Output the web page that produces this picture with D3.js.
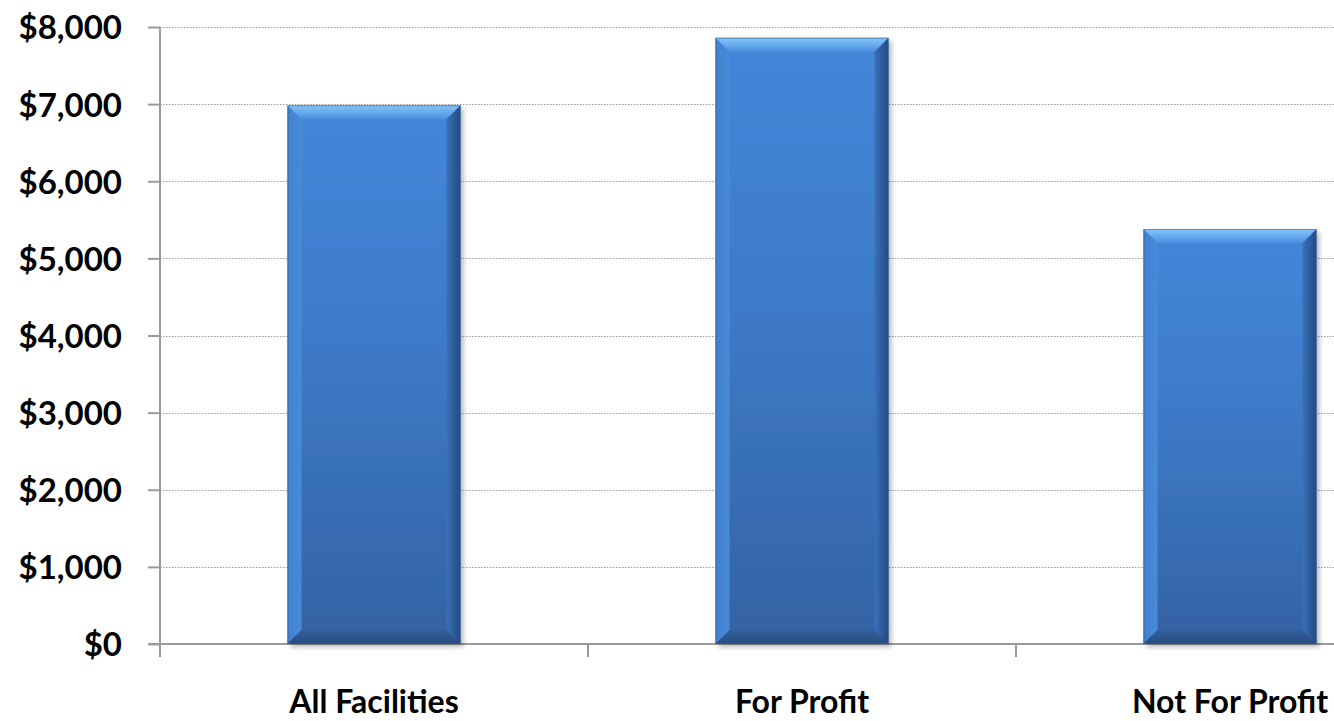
<!DOCTYPE html>
<html>
<head>
<meta charset="utf-8">
<script src="https://cdn.jsdelivr.net/npm/d3@7/dist/d3.min.js"></script>
<style>
  html, body { margin: 0; padding: 0; background: #fff; overflow: hidden; }
  svg { display: block; }
  text { font-family: Lato, "Open Sans", sans-serif; font-weight: 700; fill: #000; }
</style>
</head>
<body>
<svg id="chart" width="1334" height="721"></svg>
<script>
const categories = ["All Facilities", "For Profit", "Not For Profit"];
const values = [6985, 7860, 5380];
const yTicks = [0, 1000, 2000, 3000, 4000, 5000, 6000, 7000, 8000];

const W = 1334, H = 721;
const svg = d3.select("#chart");

const x = d3.scaleBand().domain(categories).range([160, 1444]).paddingInner(0.596).paddingOuter(0.298);
const y = d3.scaleLinear().domain([0, 8000]).range([644, 27]);

const defs = svg.append("defs");
function lg(id, stops, x1, y1, x2, y2) {
  const g = defs.append("linearGradient").attr("id", id)
    .attr("x1", x1).attr("y1", y1).attr("x2", x2).attr("y2", y2);
  stops.forEach(s => g.append("stop").attr("offset", s[0]).attr("stop-color", s[1]));
}
lg("body", [[0, "#4487da"], [0.5, "#3c78c4"], [1, "#3462a3"]], 0, 0, 0, 1);
lg("top", [[0, "#86c4f8"], [0.45, "#6aaef0"], [1, "#4a8edd"]], 0, 0, 0, 1);
lg("left", [[0, "#3f80d0"], [1, "#4a8bd8"]], 0, 0, 1, 0);
lg("right", [[0, "#3a72bb"], [1, "#24497e"]], 0, 0, 1, 0);
lg("bottom", [[0, "#33609d"], [1, "#284c80"]], 0, 0, 0, 1);
const f = defs.append("filter").attr("id", "shadow").attr("x", "-10%").attr("y", "-10%").attr("width", "130%").attr("height", "130%");
f.append("feDropShadow").attr("dx", 3).attr("dy", 3).attr("stdDeviation", 2.5).attr("flood-color", "#000").attr("flood-opacity", 0.28);

// gridlines
svg.append("g").selectAll("line").data(yTicks.filter(t => t > 0)).join("line")
  .attr("x1", 160).attr("x2", W).attr("y1", d => Math.round(y(d)) + 0.5).attr("y2", d => Math.round(y(d)) + 0.5)
  .attr("stroke", "#999").attr("stroke-width", 1).attr("stroke-dasharray", "1.5,1.5");

// y axis
const yAxis = svg.append("g").attr("transform", "translate(160,0)")
  .call(d3.axisLeft(y).tickValues(yTicks).tickSize(12).tickPadding(26).tickFormat(d => "$" + d3.format(",")(d)));
yAxis.select(".domain").remove();
yAxis.selectAll(".tick line").attr("stroke", "#9a9a9a").attr("stroke-width", 2);
yAxis.selectAll(".tick text").attr("font-size", 33).attr("dy", "0.36em").style("font-family", "Lato, sans-serif").style("font-weight", 700).attr("fill", "#000");
svg.append("line").attr("x1", 160).attr("x2", 160).attr("y1", y(8000)).attr("y2", 657)
  .attr("stroke", "#9a9a9a").attr("stroke-width", 2);

// x axis
svg.append("line").attr("x1", 148).attr("x2", W).attr("y1", y(0)).attr("y2", y(0))
  .attr("stroke", "#9a9a9a").attr("stroke-width", 2);
const bounds = categories.slice(1).map(c => x(c) - x.step() * x.paddingInner() / 2);
svg.append("g").selectAll("line").data(bounds).join("line")
  .attr("x1", d => d).attr("x2", d => d).attr("y1", y(0)).attr("y2", 657)
  .attr("stroke", "#9a9a9a").attr("stroke-width", 2);

// bars
const b = 14;
const bars = svg.append("g").selectAll("g").data(categories.map((c, i) => ({ c, v: values[i] }))).join("g");
bars.each(function (d) {
  const g = d3.select(this);
  const x0 = x(d.c), w = x.bandwidth(), y0 = y(d.v), h = y(0) - y(d.v);
  g.append("rect").attr("x", x0).attr("y", y0).attr("width", w).attr("height", h)
    .attr("fill", "url(#body)").attr("filter", "url(#shadow)");
  const pts = a => a.map(p => p.join(",")).join(" ");
  g.append("polygon").attr("points", pts([[x0, y0], [x0 + b, y0 + b], [x0 + b, y0 + h - b], [x0, y0 + h]])).attr("fill", "url(#left)");
  g.append("polygon").attr("points", pts([[x0 + w, y0], [x0 + w - b, y0 + b], [x0 + w - b, y0 + h - b], [x0 + w, y0 + h]])).attr("fill", "url(#right)");
  g.append("polygon").attr("points", pts([[x0, y0 + h], [x0 + b, y0 + h - b], [x0 + w - b, y0 + h - b], [x0 + w, y0 + h]])).attr("fill", "url(#bottom)");
  g.append("polygon").attr("points", pts([[x0, y0], [x0 + w, y0], [x0 + w - b, y0 + b], [x0 + b, y0 + b]])).attr("fill", "url(#top)");
  g.append("rect").attr("x", x0 + 0.5).attr("y", y0 + 0.5).attr("width", w - 1).attr("height", h - 1)
    .attr("fill", "none").attr("stroke", "#2f5a92").attr("stroke-opacity", 0.5);
});

// category labels
svg.append("g").selectAll("text").data(categories).join("text")
  .attr("x", d => x(d) + x.bandwidth() / 2).attr("y", 713)
  .attr("text-anchor", "middle").attr("font-size", 32).text(d => d);
</script>
</body>
</html>
